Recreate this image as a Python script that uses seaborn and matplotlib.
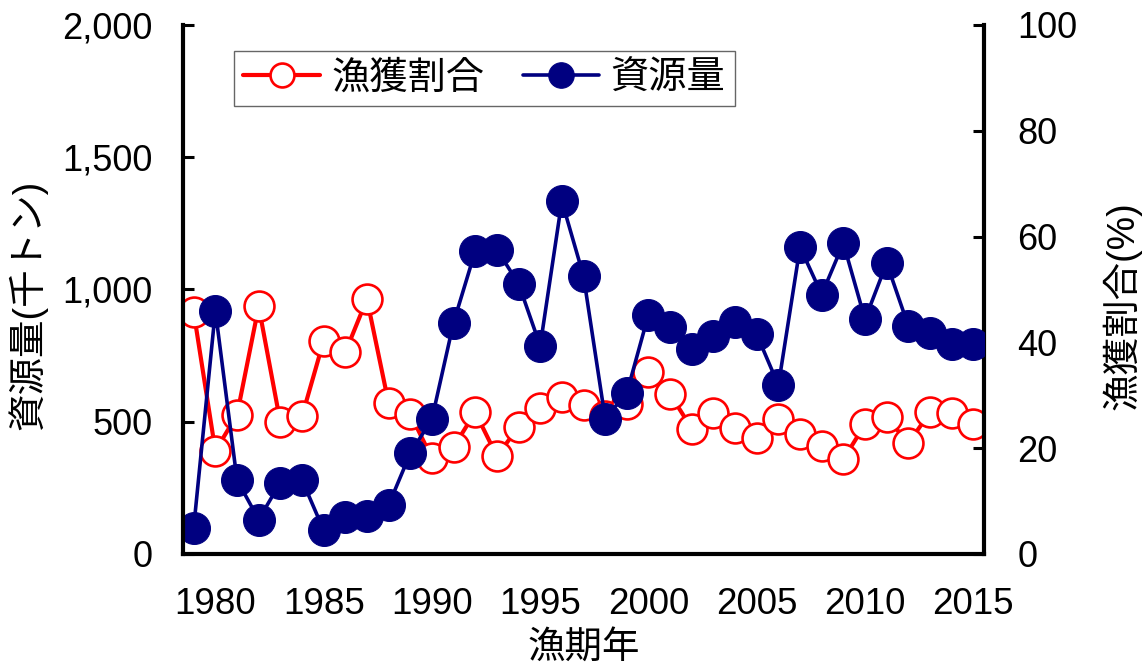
import matplotlib
matplotlib.use('Agg')
import matplotlib.pyplot as plt
from matplotlib.ticker import FixedLocator, FuncFormatter
import numpy as np
import pandas as pd
import seaborn as sns

# 漁期年
years = list(range(1979, 2016))
# 資源量 (千トン)
biomass = [100, 920, 280, 130, 270, 280, 90, 140, 145, 185,
           380, 510, 875, 1145, 1151, 1022, 787, 1334, 1051, 512,
           609, 905, 858, 774, 823, 878, 830, 638, 1160, 981,
           1175, 887, 1100, 862, 836, 795, 792]
# 漁獲割合 (%)
catch_rate = [45.7, 19.5, 26.3, 46.8, 24.9, 26.0, 40.3, 38.1, 48.2, 28.5,
              26.5, 18.1, 20.2, 26.8, 18.5, 24.0, 27.6, 29.6, 28.2, 26.0,
              28.4, 34.4, 30.2, 23.7, 26.7, 23.9, 22.0, 25.6, 22.6, 20.5,
              17.9, 24.5, 25.9, 20.9, 26.8, 26.7, 24.6]
year_labels = [1980, 1985, 1990, 1995, 2000, 2005, 2010, 2015]

df = pd.DataFrame({'year': years, 'biomass': biomass, 'rate': catch_rate})

sns.set_style('white')
plt.rcParams['font.family'] = ['Liberation Sans', 'Noto Sans CJK JP']
plt.rcParams.update({'text.color': 'black', 'axes.labelcolor': 'black',
                     'xtick.color': 'black', 'ytick.color': 'black'})

fig = plt.figure(figsize=(11.43, 6.68), dpi=100)
ax = fig.add_axes([0.160, 0.1707, 0.701, 0.7919])
ax2 = ax.twinx()

navy = '#000080'
red = '#FF0000'

sns.lineplot(data=df, x='year', y='rate', ax=ax2, color=red, linewidth=3.0,
             marker='o', markersize=21.5, markerfacecolor='white',
             markeredgecolor=red, markeredgewidth=1.9, label='漁獲割合', legend=False)
sns.lineplot(data=df, x='year', y='biomass', ax=ax, color=navy, linewidth=2.6,
             marker='o', markersize=23, markerfacecolor=navy,
             markeredgecolor=navy, label='資源量', legend=False)

# 資源量を手前に
ax.set_zorder(ax2.get_zorder() + 1)
ax.patch.set_visible(False)

ax.set_xlim(1978.5, 2015.5)
ax.set_ylim(0, 2000)
ax2.set_ylim(0, 100)

ax.set_xticks(year_labels)
ax.xaxis.set_minor_locator(FixedLocator(np.arange(1978.5, 2016, 1)))
ax.tick_params(axis='x', which='major', length=0, pad=24, labelsize=26.5)
ax.tick_params(axis='x', which='minor', direction='out', length=8, width=2.2)
ax.set_yticks([0, 500, 1000, 1500, 2000])
ax.yaxis.set_major_formatter(FuncFormatter(lambda v, p: f'{int(v):,}'))
ax.tick_params(axis='y', direction='in', length=8, width=2.2, pad=22, labelsize=26)
ax2.set_yticks([0, 20, 40, 60, 80, 100])
ax2.tick_params(axis='y', direction='in', length=8, width=2.2, pad=24, labelsize=26)

for a in (ax, ax2):
    a.spines['top'].set_visible(False)
    for s in ('left', 'right', 'bottom'):
        a.spines[s].set_linewidth(3)
        a.spines[s].set_color('black')
ax.spines['right'].set_visible(False)
ax2.spines['left'].set_visible(False)
ax2.spines['bottom'].set_visible(False)

ax.set_xlabel('漁期年', fontsize=27)
ax.xaxis.set_label_coords(0.5, -0.145)
ax.set_ylabel('資源量(千トン)', fontsize=27)
ax.yaxis.set_label_coords(-0.169, 0.47)
ax2.set_ylabel('漁獲割合(%)', fontsize=27, rotation=90)
ax2.yaxis.set_label_coords(1.147, 0.47)

h1, l1 = ax2.get_legend_handles_labels()
h2, l2 = ax.get_legend_handles_labels()
leg = ax.legend(h1 + h2, l1 + l2, loc='upper left', bbox_to_anchor=(0.0637, 0.951),
                ncol=2, fontsize=27.5, frameon=True, fancybox=False, borderaxespad=0,
                handlelength=2.0, handletextpad=0.3, columnspacing=1.0,
                borderpad=0.25, markerscale=0.8)
leg.get_frame().set_edgecolor('#404040')
leg.get_frame().set_linewidth(1.0)

plt.savefig('out.png', dpi=100)
